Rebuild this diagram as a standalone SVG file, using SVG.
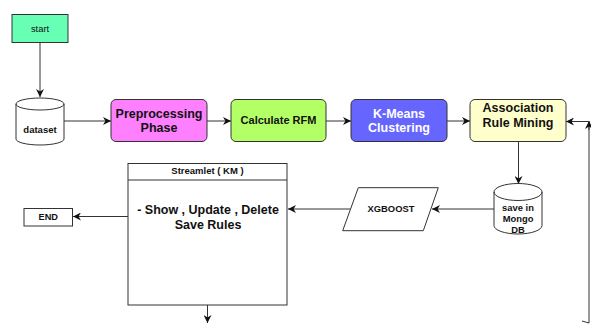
<svg xmlns="http://www.w3.org/2000/svg" width="591" height="325" viewBox="0 0 591 325">
<style>
.n{stroke:#333;stroke-width:1}
.t{font-family:"Liberation Sans",Arial,sans-serif;font-weight:bold;text-anchor:middle;fill:#111}
.e{fill:none;stroke:#333;stroke-width:1}
</style>
<defs>
<marker id="a" viewBox="0 0 10 10" refX="10" refY="5" markerWidth="8" markerHeight="8" markerUnits="userSpaceOnUse" orient="auto">
<path d="M0,0 L10,5 L0,10 L3,5 Z" fill="#111"/>
</marker>
</defs>
<rect width="591" height="325" fill="#fff"/>
<g id="connectors">
<path class="e" d="M40,43 V97" marker-end="url(#a)"/>
<path class="e" d="M64,121 H111" marker-end="url(#a)"/>
<path class="e" d="M207,121 H231" marker-end="url(#a)"/>
<path class="e" d="M326,121 H351" marker-end="url(#a)"/>
<path class="e" d="M447,121 H470" marker-end="url(#a)"/>
<path class="e" d="M518.5,142 V184" marker-end="url(#a)"/>
<path class="e" d="M494,209 H432" marker-end="url(#a)"/>
<path class="e" d="M350,209 H288" marker-end="url(#a)"/>
<path class="e" d="M128,216.5 H73" marker-end="url(#a)"/>
<path class="e" d="M207.5,305 V323" marker-end="url(#a)"/>
<path class="e" d="M589,323 V121.5 H566" marker-end="url(#a)"/>
<path class="e" d="M589,130 V121" marker-end="url(#a)"/>
<path class="e" d="M582,321 L589,323"/>
</g>
<g id="start">
<rect class="n" x="12" y="14.5" width="56" height="28" fill="#66FFB3"/>
<text class="t" x="40" y="32" font-size="9.4" font-weight="normal" style="font-weight:normal">start</text>
</g>
<g id="dataset">
<path class="n" d="M16,104 A24,6 0 0 1 64,104 V139 A24,6 0 0 1 16,139 Z" fill="#fff"/>
<path class="e" d="M16,104 A24,6 0 0 0 64,104"/>
<text class="t" x="40" y="133.3" font-size="9.5">dataset</text>
</g>
<g id="preprocessing">
<rect class="n" x="111" y="99.5" width="96" height="42" rx="5" fill="#FF80FF"/>
<text class="t" x="159" y="117.7" font-size="12.5">Preprocessing</text>
<text class="t" x="159" y="132" font-size="12.5">Phase</text>
</g>
<g id="rfm">
<rect class="n" x="231" y="99.5" width="95" height="42" rx="5" fill="#B3FF66"/>
<text class="t" x="278.5" y="124" font-size="11">Calculate RFM</text>
</g>
<g id="kmeans">
<rect class="n" x="351" y="99.5" width="96" height="42" rx="5" fill="#6666FF"/>
<text class="t" x="399" y="117.7" font-size="12.5" style="fill:#fff">K-Means</text>
<text class="t" x="399" y="131.7" font-size="12.5" style="fill:#fff">Clustering</text>
</g>
<g id="association">
<rect class="n" x="470" y="99.5" width="96" height="42" rx="5" fill="#FFFFCC"/>
<text class="t" x="518" y="112.4" font-size="12.5">Association</text>
<text class="t" x="518" y="127" font-size="12.5">Rule Mining</text>
</g>
<g id="mongo">
<path class="n" d="M494,192 A24,8.5 0 0 1 542,192 V225.5 A24,8.5 0 0 1 494,225.5 Z" fill="#fff"/>
<path class="e" d="M494,192 A24,8.5 0 0 0 542,192"/>
<text class="t" x="518" y="210.6" font-size="9.4">save in</text>
<text class="t" x="518" y="222.3" font-size="9.4">Mongo</text>
<text class="t" x="518" y="233.3" font-size="9.4">DB</text>
</g>
<g id="xgboost">
<polygon class="n" points="358.3,187.7 438.3,187.7 423.3,230.7 342.7,230.7" fill="#fff"/>
<text class="t" x="391" y="212.3" font-size="9.4">XGBOOST</text>
</g>
<g id="streamlet">
<rect class="n" x="128" y="163.5" width="159" height="141.5" fill="#fff"/>
<path class="e" d="M128,180 H287"/>
<text class="t" x="207.5" y="174.4" font-size="9.5">Streamlet ( KM )</text>
<text class="t" x="208" y="214.4" font-size="12.5">- Show , Update , Delete</text>
<text class="t" x="208" y="228.7" font-size="12.5">Save Rules</text>
</g>
<g id="end">
<rect class="n" x="24" y="208.5" width="48.5" height="17.5" fill="#fff"/>
<text class="t" x="48.3" y="220.3" font-size="9.2">END</text>
</g>
</svg>
